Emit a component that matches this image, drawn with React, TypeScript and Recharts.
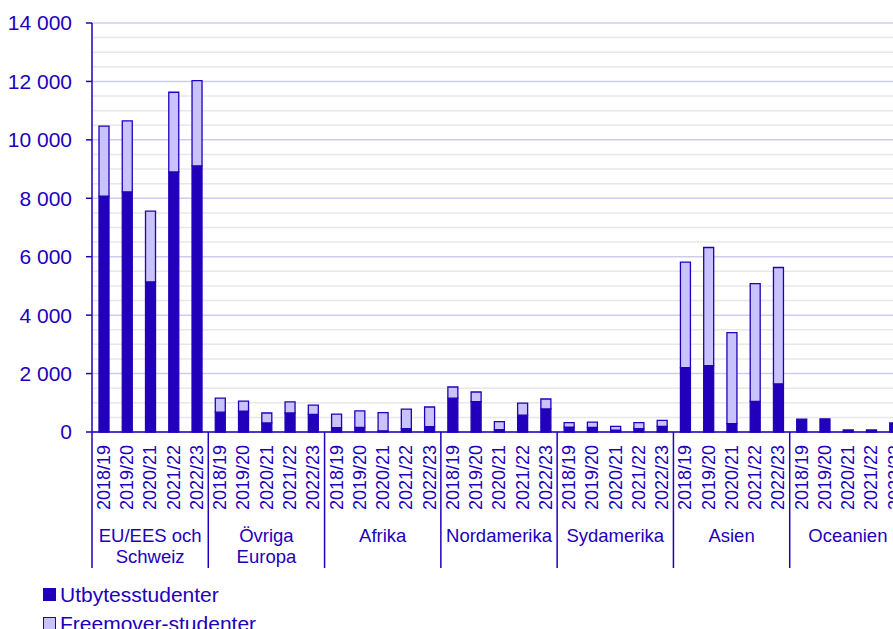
import React from "react";
import { BarChart, Bar, XAxis, YAxis, CartesianGrid, ReferenceLine } from "recharts";

const regions = ["EU/EES och Schweiz", "Övriga Europa", "Afrika", "Nordamerika", "Sydamerika", "Asien", "Oceanien"];
const regionLines: Record<string, string[]> = {
  "EU/EES och Schweiz": ["EU/EES och", "Schweiz"],
  "Övriga Europa": ["Övriga", "Europa"],
};
const years = ["2018/19", "2019/20", "2020/21", "2021/22", "2022/23"];

// one row per region, one value per year
const utbytes = [
  [8070, 8220, 5140, 8900, 9110],
  [680, 710, 310, 650, 600],
  [150, 160, 40, 115, 185],
  [1160, 1040, 80, 580, 790],
  [170, 160, 60, 115, 195],
  [2200, 2270, 290, 1050, 1650],
  [440, 450, 70, 70, 310],
];
const freemover = [
  [2400, 2430, 2420, 2730, 2920],
  [480, 350, 340, 380, 320],
  [465, 560, 625, 670, 670],
  [380, 330, 275, 410, 340],
  [150, 180, 135, 205, 205],
  [3615, 4045, 3115, 4030, 3980],
  [0, 0, 0, 0, 0],
];
const yTicks = [0, 2000, 4000, 6000, 8000, 10000, 12000, 14000];
const minorTicks = [500, 1000, 1500, 2500, 3000, 3500, 4500, 5000, 5500, 6500, 7000, 7500, 8500, 9000, 9500, 10500, 11000, 11500, 12500, 13000, 13500];

const data = regions.flatMap((region, r) =>
  years.map((year, i) => ({
    region,
    year,
    utbytes: utbytes[r][i],
    freemover: freemover[r][i],
  }))
);

const DARK = "#2200bb";
const LIGHT = "#c8c2fd";
const FONT = "'Liberation Sans', Arial, sans-serif";

const W = 920;
const H = 660;
const LEFT = 92;
const RIGHT = 14;
const TOP = 23;
const YEAR_H = 88;
const REGION_H = 50;
const PLOT_W = W - LEFT - RIGHT;
const SLOT = PLOT_W / data.length;

const fmt = (v: number) => (v >= 1000 ? `${Math.floor(v / 1000)} ${String(v % 1000).padStart(3, "0")}` : String(v));

const YearTick = (props: any) => {
  const { x, y, payload } = props;
  return (
    <g transform={`translate(${x},${y})`}>
      <text x={0} y={0} dy="0.35em" textAnchor="end" transform="rotate(-90)" fill={DARK} fontSize={18} fontFamily={FONT}>
        {payload.value}
      </text>
    </g>
  );
};

const RegionTick = (props: any) => {
  const { x, y, payload, index } = props;
  const top = y - YEAR_H;
  const out: React.ReactNode[] = [];
  if (index % years.length === 0) {
    out.push(<line key="s" x1={x - SLOT / 2} x2={x - SLOT / 2} y1={top} y2={y + 48} stroke={DARK} strokeWidth={1.5} />);
  }
  if (index === data.length - 1) {
    out.push(<line key="e" x1={x + SLOT / 2} x2={x + SLOT / 2} y1={top} y2={y + 48} stroke={DARK} strokeWidth={1.5} />);
  }
  if (index % years.length === 2) {
    const lines = regionLines[payload.value] || [payload.value];
    out.push(
      <text key="t" x={x} y={y + 22} textAnchor="middle" fill={DARK} fontSize={18.5} fontFamily={FONT}>
        {lines.map((l, k) => (
          <tspan key={k} x={x} dy={k === 0 ? 0 : 21}>
            {l}
          </tspan>
        ))}
      </text>
    );
  }
  return <g>{out}</g>;
};

const legendItems = [
  { name: "Utbytesstudenter", color: DARK },
  { name: "Freemover-studenter", color: LIGHT },
];

export default function App() {
  return (
    <div style={{ position: "absolute", left: 0, top: 0, width: 893, height: 629, overflow: "hidden", background: "#fff" }}>
      <BarChart
        width={W}
        height={H}
        data={data}
        barSize={10}
        margin={{ top: TOP, right: RIGHT, left: 0, bottom: H - TOP - 409 - YEAR_H - REGION_H }}
      >
        <CartesianGrid vertical={false} stroke="#cfcdef" strokeWidth={1.5} />
        {minorTicks.map((v) => (
          <ReferenceLine key={v} y={v} stroke="#e8e8e8" strokeWidth={1.5} zIndex={-90} />
        ))}
        <XAxis
          dataKey="year"
          interval={0}
          height={YEAR_H}
          tickSize={0}
          tickMargin={13}
          tick={<YearTick />}
          axisLine={{ stroke: DARK, strokeWidth: 1.5 }}
        />
        <XAxis
          xAxisId="region"
          dataKey="region"
          interval={0}
          height={REGION_H}
          tickSize={0}
          tickMargin={0}
          tick={<RegionTick />}
          axisLine={false}
        />
        <YAxis
          domain={[0, 14000]}
          ticks={yTicks}
          interval={0}
          width={LEFT}
          tickSize={6}
          tickMargin={14}
          tickFormatter={fmt}
          tick={{ fill: DARK, fontSize: 21, fontFamily: FONT }}
          tickLine={{ stroke: DARK, strokeWidth: 1.5 }}
          axisLine={{ stroke: DARK, strokeWidth: 1.5 }}
        />
        <Bar dataKey="utbytes" stackId="a" fill={DARK} stroke={DARK} strokeWidth={1.3} isAnimationActive={false} />
        <Bar dataKey="freemover" stackId="a" fill={LIGHT} stroke={DARK} strokeWidth={1.3} isAnimationActive={false} />
      </BarChart>
      <div style={{ position: "absolute", left: 43, top: 580, fontFamily: FONT, fontSize: 21, color: DARK, lineHeight: "29px" }}>
        {legendItems.map((it) => (
          <div key={it.name} style={{ display: "flex", alignItems: "center" }}>
            <span style={{ display: "inline-block", width: 11, height: 11, background: it.color, border: `1px solid ${DARK}`, marginRight: 4 }} />
            {it.name}
          </div>
        ))}
      </div>
    </div>
  );
}
